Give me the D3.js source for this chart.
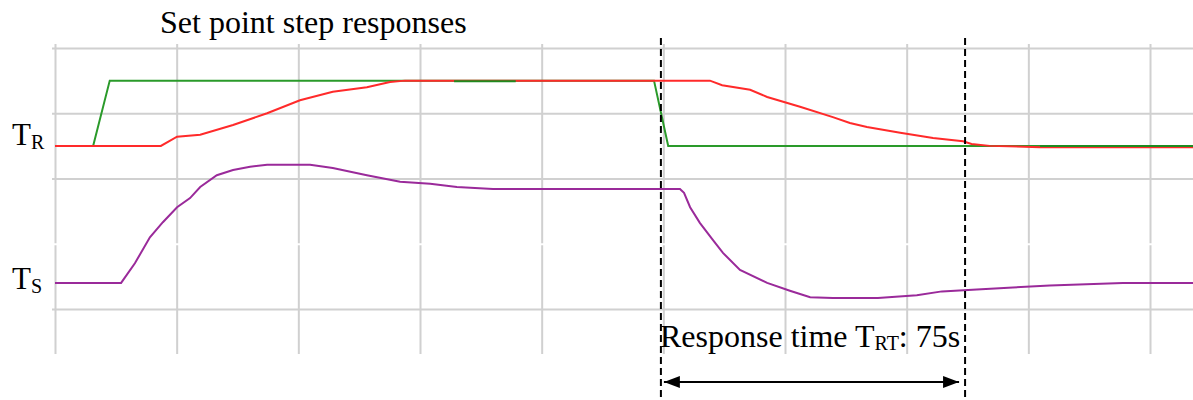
<!DOCTYPE html>
<html>
<head>
<meta charset="utf-8">
<script src="https://cdn.jsdelivr.net/npm/d3@7"></script>
<style>
  html, body { margin: 0; padding: 0; background: #fff; }
  svg { display: block; }
  text { font-family: "Liberation Serif", "Times New Roman", serif; fill: #000; }
</style>
</head>
<body>
<svg id="chart" width="1193" height="400"></svg>
<script>
// Time in seconds, levels in grid divisions (0 = lowest grid line)
const gridTimes = [0, 30, 60, 90, 120, 150, 180, 210, 240, 270];
const gridLevels = [0, 1, 2, 3, 4];

// Set point (green)
const setpointTime  = [0, 9.4, 13.5, 147.7, 151.2, 280.6];
const setpointValue = [2.5, 2.5, 3.5, 3.5, 2.5, 2.5];
// Windows where the set point trace is drawn above the room trace
const setpointOnTop = [[98.4, 113.6], [242.9, 280.6]];

// Room temperature T_R (red)
const roomTime  = [0, 26.1, 30.1, 35.8, 43.9, 52.3, 60.4, 68.5, 76.9, 82.6, 86.3,
                   161.5, 164.5, 171.4, 175.6, 183.7, 191.8, 196.0, 200.2, 208.4,
                   216.5, 223.9, 226.0, 230.5, 242.9, 280.6];
const roomValue = [2.5, 2.5, 2.64, 2.67, 2.82, 3.0, 3.2, 3.33, 3.4, 3.48, 3.5,
                   3.5, 3.43, 3.36, 3.25, 3.1, 2.94, 2.85, 2.79, 2.7,
                   2.62, 2.57, 2.53, 2.5, 2.48, 2.48];

// Supply temperature T_S (purple)
const supplyTime  = [0, 16.3, 19.7, 23.4, 26.6, 30.1, 33.3, 35.8, 39.9, 43.9, 48.1,
                     52.3, 62.9, 68.5, 76.9, 85.1, 92.5, 99.1, 108.0, 154.1, 155.1,
                     156.6, 159.0, 162.2, 164.7, 168.9, 175.6, 181.2, 186.2, 191.8,
                     202.9, 212.5, 218.7, 227.3, 236.2, 245.3, 263.3, 280.6];
const supplyValue = [0.4, 0.4, 0.7, 1.1, 1.33, 1.56, 1.7, 1.87, 2.05, 2.13, 2.18,
                     2.21, 2.21, 2.16, 2.05, 1.95, 1.92, 1.87, 1.84, 1.84, 1.78,
                     1.56, 1.32, 1.06, 0.86, 0.6, 0.4, 0.28, 0.18, 0.17,
                     0.17, 0.21, 0.27, 0.3, 0.33, 0.36, 0.4, 0.4];

// Response time markers (seconds)
const responseStart = 149.4;
const responseEnd = 224.4;
const responseSeconds = Math.round(responseEnd - responseStart);

const svg = d3.select("#chart");
const x = d3.scaleLinear().domain([0, 280.6]).range([55, 1193]);
const y = d3.scaleLinear().domain([0, 4]).range([309, 48]);

const gridColor = "#d0d0d0";

// Vertical grid lines
const vAxis = d3.axisBottom(x).tickValues(gridTimes).tickFormat("")
  .tickSize(y(-0.69) - y(4.06));
svg.append("g").attr("transform", `translate(0,${y(4.06)})`).call(vAxis)
  .call(g => g.select(".domain").remove())
  .call(g => g.selectAll("line").attr("stroke", gridColor).attr("stroke-width", 2));

// Horizontal grid lines (level 1 is blanked out)
const hAxis = d3.axisRight(y).tickValues(gridLevels).tickFormat("")
  .tickSize(x(280.6) - x(-0.74));
svg.append("g").attr("transform", `translate(${x(-0.74)},0)`).call(hAxis)
  .call(g => g.select(".domain").remove())
  .call(g => g.selectAll("line")
    .attr("stroke", d => d === 1 ? "#fff" : gridColor)
    .attr("stroke-width", 2));

const line = d3.line().x(d => x(d[0])).y(d => y(d[1]));
const zip = (a, b) => a.map((t, i) => [t, b[i]]);

const setpoint = zip(setpointTime, setpointValue);
const room = zip(roomTime, roomValue);
const supply = zip(supplyTime, supplyValue);

svg.append("path").datum(setpoint).attr("d", line)
  .attr("fill", "none").attr("stroke", "#2a9a2a").attr("stroke-width", 2);
svg.append("path").datum(room).attr("d", line)
  .attr("fill", "none").attr("stroke", "#ff2a2a").attr("stroke-width", 2);
setpointOnTop.forEach(([t0, t1]) => {
  const level = t0 < 150 ? 3.492 : 2.5;
  svg.append("path").datum([[t0, level], [t1, level]])
    .attr("d", line).attr("fill", "none").attr("stroke", "#1f8a1f").attr("stroke-width", 2);
});
svg.append("path").datum(supply).attr("d", line)
  .attr("fill", "none").attr("stroke", "#9a2a9a").attr("stroke-width", 2);

// Dashed response markers
[responseStart, responseEnd].forEach(t => {
  svg.append("line")
    .attr("x1", x(t)).attr("x2", x(t))
    .attr("y1", 38).attr("y2", 400)
    .attr("stroke", "#000").attr("stroke-width", 2)
    .attr("stroke-dasharray", "7,4");
});

// Double-headed arrow
const defs = svg.append("defs");
["start", "end"].forEach(k => {
  defs.append("marker").attr("id", "arrow-" + k)
    .attr("viewBox", "0 0 16 12").attr("refX", k === "end" ? 16 : 0).attr("refY", 6)
    .attr("markerWidth", 16).attr("markerHeight", 12)
    .attr("markerUnits", "userSpaceOnUse").attr("orient", "auto")
    .append("path")
    .attr("d", k === "end" ? "M0,0 L16,6 L0,12 Z" : "M16,0 L0,6 L16,12 Z")
    .attr("fill", "#000");
});
svg.append("line")
  .attr("x1", x(responseStart) + 3).attr("x2", x(responseEnd) - 6)
  .attr("y1", 382).attr("y2", 382)
  .attr("stroke", "#000").attr("stroke-width", 2)
  .attr("marker-start", "url(#arrow-start)")
  .attr("marker-end", "url(#arrow-end)");

// Text
svg.append("text").attr("x", 160).attr("y", 33)
  .attr("font-size", 32).text("Set point step responses");

function subLabel(px, py, main, sub, size, subSize) {
  const t = svg.append("text").attr("x", px).attr("y", py).attr("font-size", size);
  t.append("tspan").text(main);
  t.append("tspan").attr("font-size", subSize).attr("dy", 4).text(sub);
  return t;
}
subLabel(12, y(2.5) - 1, "T", "R", 31, 20);
subLabel(12, y(0.4) + 6, "T", "S", 31, 20);
svg.append("text").attr("x", 660).attr("y", 347).attr("font-size", 32)
  .call(t => {
    t.append("tspan").text("Response time T");
    t.append("tspan").attr("font-size", 20).attr("dy", 3).text("RT");
    t.append("tspan").attr("dy", -3).text(": " + responseSeconds + "s");
  });
</script>
</body>
</html>
